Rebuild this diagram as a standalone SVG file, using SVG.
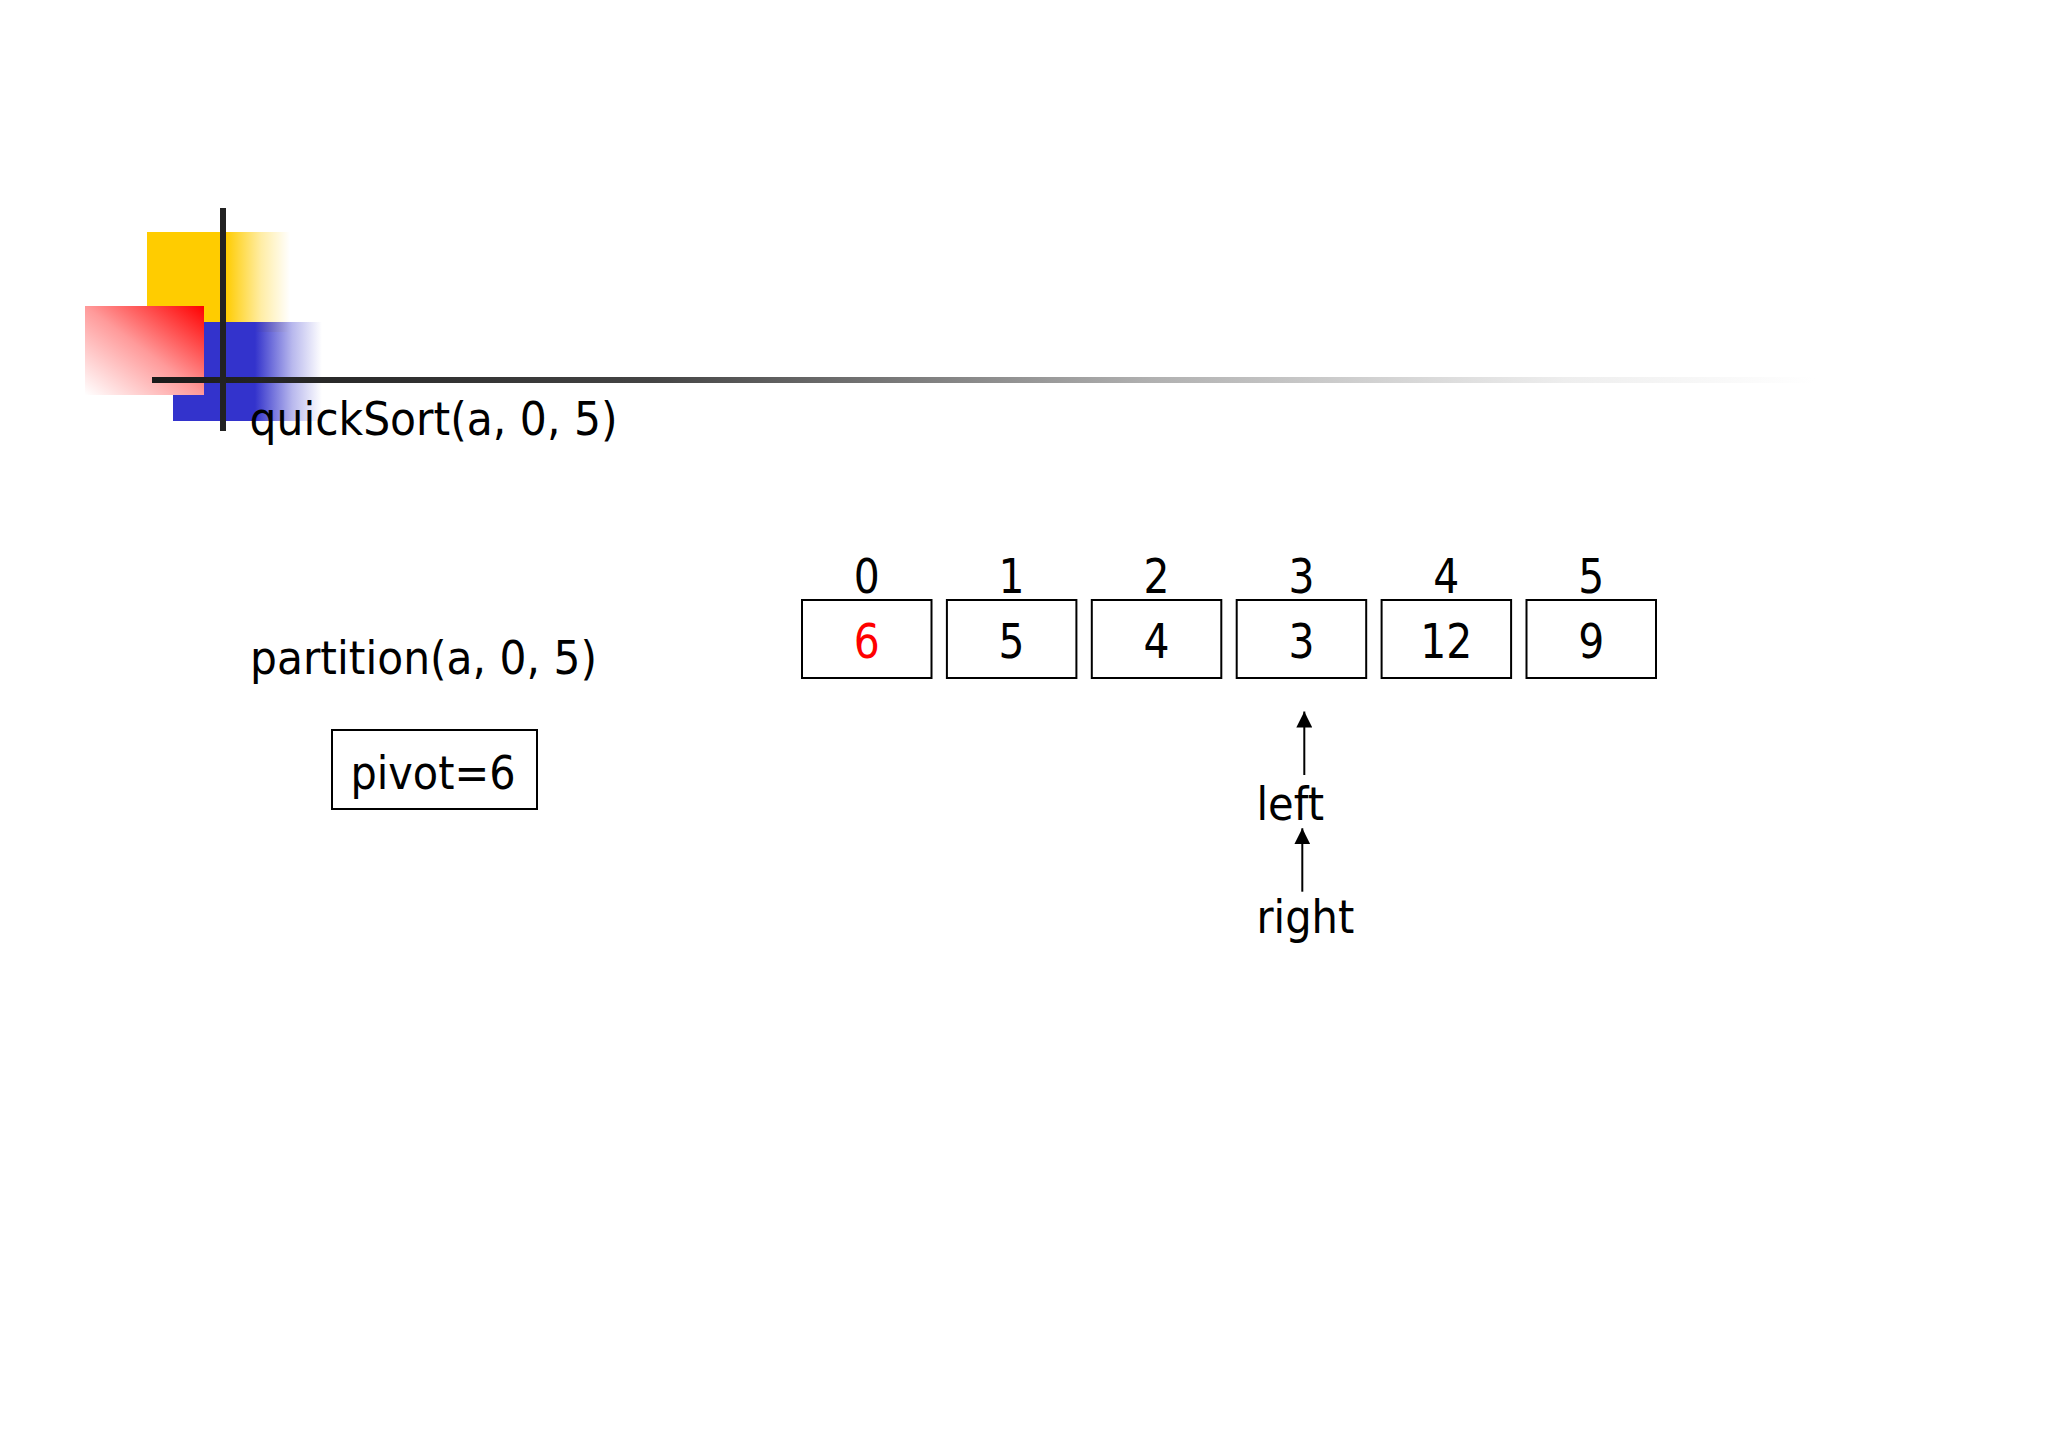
<svg xmlns="http://www.w3.org/2000/svg" width="2048" height="1448" viewBox="0 0 2048 1448">
  <defs>
    <linearGradient id="gYellow" x1="0" y1="0" x2="1" y2="0">
      <stop offset="0" stop-color="#FFCC00"/>
      <stop offset="0.55" stop-color="#FFCC00"/>
      <stop offset="0.8" stop-color="#FFCC00" stop-opacity="0.35"/>
      <stop offset="1" stop-color="#FFCC00" stop-opacity="0"/>
    </linearGradient>
    <linearGradient id="gBlue" x1="0" y1="0" x2="1" y2="0">
      <stop offset="0" stop-color="#3333CC"/>
      <stop offset="0.55" stop-color="#3333CC"/>
      <stop offset="0.8" stop-color="#3333CC" stop-opacity="0.35"/>
      <stop offset="1" stop-color="#3333CC" stop-opacity="0"/>
    </linearGradient>
    <linearGradient id="gRed" x1="1" y1="0" x2="0" y2="1">
      <stop offset="0" stop-color="#FF0000"/>
      <stop offset="0.5" stop-color="#FF9A9A"/>
      <stop offset="1" stop-color="#FFFFFF"/>
    </linearGradient>
    <linearGradient id="gLine" gradientUnits="userSpaceOnUse" x1="152" y1="0" x2="1815" y2="0">
      <stop offset="0" stop-color="#1a1a1a"/>
      <stop offset="0.3" stop-color="#444444"/>
      <stop offset="0.6" stop-color="#b0b0b0"/>
      <stop offset="0.85" stop-color="#eeeeee"/>
      <stop offset="1" stop-color="#ffffff"/>
    </linearGradient>
    <marker id="arrow" viewBox="0 0 16 16" refX="16" refY="8" markerWidth="16" markerHeight="16" markerUnits="userSpaceOnUse" orient="auto">
      <path d="M0,0 L16,8 L0,16 Z" fill="#000"/>
    </marker>
  </defs>
  <style>
    .t { font-family: "DejaVu Sans", "Verdana", sans-serif; font-size: 47px; fill: #000; }
    .d { font-family: "DejaVu Sans", "Verdana", sans-serif; font-size: 48px; fill: #000; text-anchor: middle; }
    .red { fill: #FF0000; }
    .cell { fill: #fff; stroke: #000; stroke-width: 2; }
    .conn { stroke: #000; stroke-width: 2; fill: none; marker-end: url(#arrow); }
  </style>
  <rect width="2048" height="1448" fill="#fff"/>

  <g id="decoration">
    <rect x="147" y="232" width="143" height="100" fill="url(#gYellow)"/>
    <rect x="173" y="322" width="149" height="99" fill="url(#gBlue)"/>
    <rect x="85" y="306" width="119" height="89" fill="url(#gRed)"/>
    <rect x="152" y="377" width="1663" height="6" fill="url(#gLine)"/>
    <rect x="220" y="208" width="6" height="223" fill="#222"/>
  </g>

  <g id="title">
    <text class="t" x="249.5" y="435" textLength="368" lengthAdjust="spacingAndGlyphs">quickSort(a, 0, 5)</text>
  </g>
  <g id="call">
    <text class="t" x="250" y="674" textLength="347" lengthAdjust="spacingAndGlyphs">partition(a, 0, 5)</text>
  </g>
  <g id="pivot">
    <rect class="cell" x="332" y="730" width="205" height="79"/>
    <text class="t" x="350.5" y="788.5" textLength="165" lengthAdjust="spacingAndGlyphs">pivot=6</text>
  </g>

  <g id="cell0">
    <text class="d" x="866.7" y="593" textLength="26" lengthAdjust="spacingAndGlyphs">0</text>
    <rect class="cell" x="802" y="600" width="129.5" height="78"/>
    <text class="d red" x="866.7" y="658" textLength="26" lengthAdjust="spacingAndGlyphs">6</text>
  </g>
  <g id="cell1">
    <text class="d" x="1011.6" y="593" textLength="26" lengthAdjust="spacingAndGlyphs">1</text>
    <rect class="cell" x="946.9" y="600" width="129.5" height="78"/>
    <text class="d" x="1011.6" y="658" textLength="26" lengthAdjust="spacingAndGlyphs">5</text>
  </g>
  <g id="cell2">
    <text class="d" x="1156.5" y="593" textLength="26" lengthAdjust="spacingAndGlyphs">2</text>
    <rect class="cell" x="1091.8" y="600" width="129.5" height="78"/>
    <text class="d" x="1156.5" y="658" textLength="26" lengthAdjust="spacingAndGlyphs">4</text>
  </g>
  <g id="cell3">
    <text class="d" x="1301.4" y="593" textLength="26" lengthAdjust="spacingAndGlyphs">3</text>
    <rect class="cell" x="1236.7" y="600" width="129.5" height="78"/>
    <text class="d" x="1301.4" y="658" textLength="26" lengthAdjust="spacingAndGlyphs">3</text>
  </g>
  <g id="cell4">
    <text class="d" x="1446.3" y="593" textLength="26" lengthAdjust="spacingAndGlyphs">4</text>
    <rect class="cell" x="1381.6" y="600" width="129.5" height="78"/>
    <text class="d" x="1446.3" y="658" textLength="52" lengthAdjust="spacingAndGlyphs">12</text>
  </g>
  <g id="cell5">
    <text class="d" x="1591.2" y="593" textLength="26" lengthAdjust="spacingAndGlyphs">5</text>
    <rect class="cell" x="1526.5" y="600" width="129.5" height="78"/>
    <text class="d" x="1591.2" y="658" textLength="26" lengthAdjust="spacingAndGlyphs">9</text>
  </g>

  <g id="label-left">
    <text class="t" x="1256.5" y="820" textLength="67.5" lengthAdjust="spacingAndGlyphs">left</text>
  </g>
  <g id="label-right">
    <text class="t" x="1256.5" y="932.5" textLength="97.8" lengthAdjust="spacingAndGlyphs">right</text>
  </g>

  <g id="connectors">
    <line class="conn" x1="1304.3" y1="775" x2="1304.3" y2="711.5"/>
    <line class="conn" x1="1302.3" y1="891.7" x2="1302.3" y2="828.3"/>
  </g>
</svg>
